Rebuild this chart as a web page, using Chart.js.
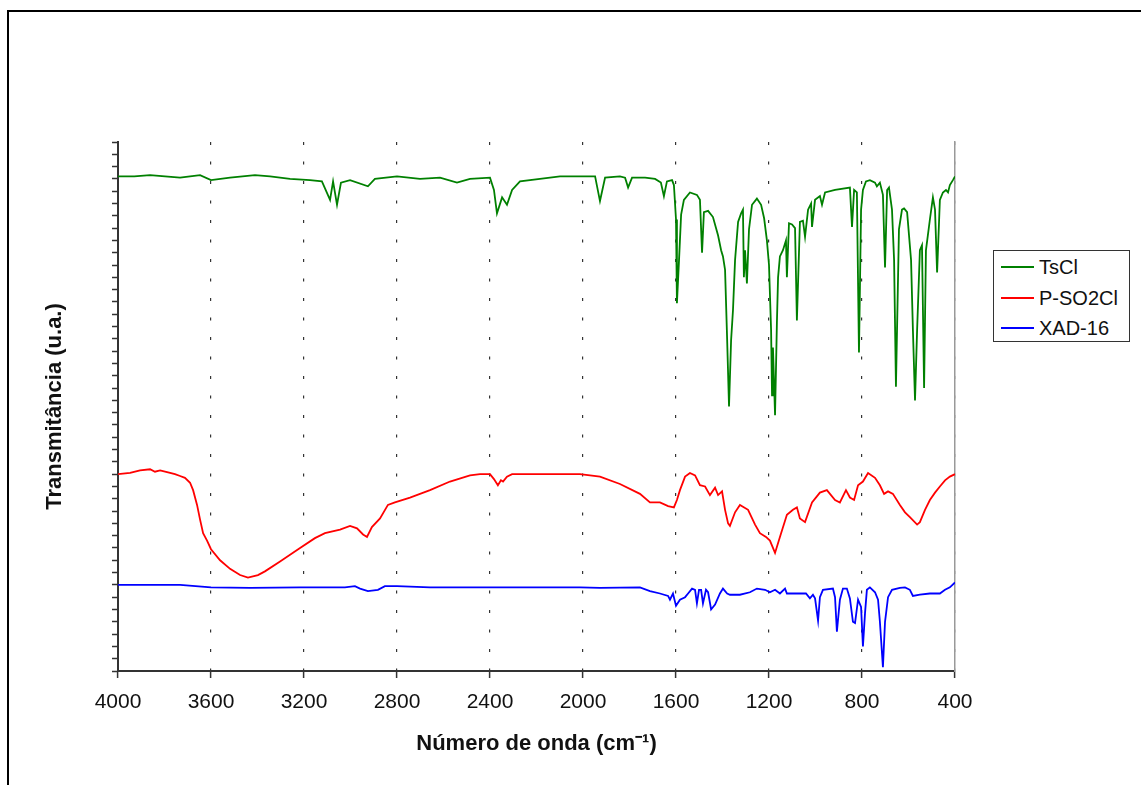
<!DOCTYPE html>
<html>
<head>
<meta charset="utf-8">
<script src="https://cdn.jsdelivr.net/npm/chart.js@4.4.1/dist/chart.umd.min.js"></script>
<style>
  html, body { margin: 0; padding: 0; background: #fff; width: 1141px; height: 785px; overflow: hidden; }
  #frame { position: absolute; left: 7px; top: 10px; width: 1160px; height: 800px; border: 2px solid #000; box-sizing: border-box; }
  #c { position: absolute; left: 0; top: 0; }
  #legend { position: absolute; left: 993px; top: 250px; width: 137px; height: 92px; border: 1px solid #333; box-sizing: border-box; background: #fff;
            font-family: "Liberation Sans", Arial, sans-serif; font-size: 20px; color: #111; }
  .row { position: absolute; left: 0; height: 24px; width: 100%; }
  .sw { position: absolute; left: 7px; top: 11px; width: 33px; height: 2px; }
  .lb { position: absolute; left: 45px; top: 0; line-height: 24px; white-space: nowrap; }
</style>
</head>
<body>
<div id="frame"></div>
<canvas id="c" width="1141" height="785"></canvas>
<div id="legend"></div>
<script>
// ---- Data (wavenumber in cm-1, transmittance in arbitrary units) ----
const seriesNames = ["TsCl", "P-SO2Cl", "XAD-16"];
const seriesColors = ["#008000", "#ff0000", "#0000ff"];
const xTicks = [4000, 3600, 3200, 2800, 2400, 2000, 1600, 1200, 800, 400];

const tsclWn = [4000,3930,3862,3798,3733,3690,3647,3600,3518,3411,3346,3260,3174,3123,3088,3075,3058,3041,3002,2925,2895,2800,2701,2615,2542,2486,2400,2383,2370,2348,2327,2305,2271,2185,2099,2000,1948,1927,1905,1841,1819,1806,1789,1733,1690,1665,1652,1639,1617,1609,1600,1596,1587,1578,1566,1540,1510,1497,1488,1480,1462,1441,1419,1406,1398,1389,1380,1372,1363,1355,1346,1333,1320,1312,1308,1303,1295,1286,1273,1252,1234,1221,1209,1200,1191,1187,1183,1174,1166,1161,1153,1140,1127,1123,1114,1101,1088,1080,1067,1054,1045,1032,1019,1015,1002,981,972,959,916,852,843,834,822,813,804,796,783,766,744,736,723,710,701,692,684,671,662,654,641,628,619,606,589,581,572,563,551,542,533,525,508,495,486,477,465,452,439,430,422,409,400];
const tsclT  = [40.2,40.2,40.3,40.2,40.1,40.2,40.3,39.9,40.1,40.3,40.2,40.0,39.9,39.8,38.3,39.8,37.9,39.7,39.9,39.4,40.0,40.2,40.0,40.1,39.7,40.0,40.1,39.1,37.2,38.5,37.9,39.1,39.8,40.0,40.2,40.2,40.2,38.2,40.1,40.2,40.1,39.3,40.1,40.1,40.0,39.7,38.6,39.8,39.9,39.5,36.7,29.9,33.4,37.1,38.3,38.9,38.7,38.3,34.0,37.3,37.4,36.9,35.4,34.2,33.7,32.6,26.9,21.5,26.9,29.3,33.4,36.5,37.2,37.5,32.0,34.2,31.5,35.9,37.9,38.4,37.9,36.8,35.0,33.0,27.7,22.4,26.3,20.8,28.3,32.0,33.7,34.2,35.0,32.0,36.4,36.3,36.0,28.5,36.5,36.6,35.3,37.5,38.0,36.1,38.3,38.6,37.9,38.9,39.1,39.3,36.1,39.1,38.9,25.9,37.5,39.1,39.8,39.9,39.7,39.4,39.7,38.7,32.8,39.1,39.3,37.5,33.4,23.1,35.9,37.5,37.6,37.3,33.4,27.7,22.0,27.7,34.2,34.6,23.0,34.2,36.7,38.5,37.5,32.4,38.3,38.9,39.1,38.9,39.5,39.9,40.2];

const psoWn = [4000,3948,3905,3862,3841,3819,3776,3755,3733,3712,3690,3677,3660,3647,3634,3617,3600,3561,3518,3475,3441,3398,3368,3303,3217,3153,3110,3045,3002,2972,2946,2929,2908,2873,2839,2809,2744,2658,2572,2486,2443,2400,2383,2366,2353,2344,2327,2305,2013,1970,1927,1841,1755,1712,1669,1634,1609,1596,1583,1561,1540,1518,1497,1475,1454,1432,1419,1402,1389,1376,1368,1346,1325,1290,1260,1239,1213,1196,1174,1153,1123,1097,1080,1067,1045,1015,981,951,916,895,869,852,834,817,796,774,744,723,705,688,667,637,615,594,563,551,529,508,486,465,443,422,400];
const psoT  = [16.0,16.1,16.3,16.4,16.2,16.3,16.1,16.0,15.85,15.7,15.3,14.7,13.5,12.3,11.2,10.6,9.9,9.0,8.3,7.8,7.6,7.8,8.1,8.9,10.0,10.8,11.2,11.5,11.8,11.6,11.1,10.9,11.7,12.4,13.5,13.7,14.1,14.7,15.4,15.9,16.0,16.0,15.6,15.1,15.5,15.4,15.8,16.0,16.0,15.9,15.8,15.2,14.4,13.7,13.7,13.4,13.3,13.9,14.7,15.8,16.1,15.9,15.1,15.0,14.3,14.9,14.3,14.6,13.1,12.0,11.8,12.9,13.5,13.1,11.9,11.2,10.9,10.6,9.6,10.9,12.7,13.1,13.3,12.4,12.1,13.7,14.5,14.7,13.9,13.7,14.7,14.1,13.9,15.1,15.4,16.1,15.7,15.1,14.4,14.6,14.4,13.5,12.9,12.5,11.9,12.1,13.1,13.9,14.5,15.0,15.5,15.8,16.0];

const xadWn = [4000,3733,3600,3432,3217,3024,2981,2959,2925,2882,2852,2800,2658,2400,2013,1927,1755,1712,1669,1634,1626,1613,1600,1583,1561,1548,1531,1518,1510,1501,1492,1484,1471,1462,1449,1432,1411,1398,1380,1368,1325,1282,1252,1217,1196,1174,1153,1131,1123,1067,1041,1024,1011,1002,989,981,968,925,916,908,895,882,865,852,839,830,817,804,796,787,779,766,744,731,723,710,701,688,671,637,615,594,581,551,508,465,443,422,400];
const xadT  = [7.0,7.0,6.8,6.75,6.8,6.8,6.9,6.7,6.5,6.6,6.9,6.9,6.8,6.8,6.8,6.75,6.8,6.5,6.3,6.1,5.8,6.3,5.3,5.8,6.0,6.3,6.7,6.6,5.5,6.6,6.6,5.5,6.6,6.4,5.0,5.4,6.3,6.7,6.3,6.2,6.2,6.4,6.7,6.6,6.4,6.6,6.3,6.7,6.3,6.3,6.3,5.9,6.2,5.9,4.1,6.0,6.6,6.7,6.0,3.2,5.8,6.7,6.7,5.9,4.0,3.9,5.8,5.2,2.0,4.7,6.6,6.8,6.4,5.8,4.0,0.3,4.0,6.0,6.6,6.75,6.8,6.6,6.1,6.2,6.3,6.3,6.6,6.8,7.2];

const yMin = 0, yMax = 43, yStep = 1;

// ---- Build datasets ----
function pts(xs, ys) { return xs.map((x, i) => ({ x: x, y: ys[i] })); }
const allWn = [tsclWn, psoWn, xadWn];
const allT = [tsclT, psoT, xadT];
const datasets = seriesNames.map((n, i) => ({
  label: n,
  data: pts(allWn[i], allT[i]),
  borderColor: seriesColors[i],
  backgroundColor: seriesColors[i],
  borderWidth: 1.8,
  pointRadius: 0,
  tension: 0,
  fill: false,
  yAxisID: 'y'
}));

// ---- Legend (HTML) ----
const lg = document.getElementById('legend');
seriesNames.forEach((n, i) => {
  const r = document.createElement('div');
  r.className = 'row';
  r.style.top = (4 + i * 30.5) + 'px';
  r.innerHTML = '<div class="sw" style="background:' + seriesColors[i] + '"></div><div class="lb">' + n + '</div>';
  lg.appendChild(r);
});

const FONT = '"Liberation Sans", Arial, sans-serif';
new Chart(document.getElementById('c'), {
  type: 'line',
  data: { datasets: datasets },
  options: {
    responsive: false,
    animation: false,
    devicePixelRatio: 1,
    layout: { padding: { left: 0, top: 142, right: 186, bottom: 0 } },
    plugins: { legend: { display: false }, tooltip: { enabled: false } },
    scales: {
      x: {
        type: 'linear',
        min: 400, max: 4000, reverse: true,
        afterBuildTicks: (s) => { s.ticks = xTicks.map(v => ({ value: v })); },
        afterFit: (s) => { s.height = 785 - 671; },
        ticks: {
          callback: (v) => String(v),
          font: { family: FONT, size: 21 },
          color: '#111',
          padding: 12,
          maxRotation: 0,
          autoSkip: false
        },
        grid: {
          display: true,
          drawOnChartArea: true,
          color: (ctx) => (ctx.tick && ctx.tick.value === 4000) ? 'rgba(0,0,0,0)' : '#333',
          lineWidth: 1.2,
          tickLength: 7,
          tickColor: '#333',
          tickWidth: 1.5
        },
        border: { display: true, color: '#333', width: 2, dash: [3, 16.5] },
        title: {
          display: true,
          text: 'Número de onda (cm⁻¹)',
          font: { family: FONT, size: 22, weight: 'bold' },
          color: '#111',
          padding: { top: 0, bottom: 28 }
        }
      },
      y: {
        type: 'linear',
        position: 'left',
        min: yMin, max: yMax,
        afterFit: (s) => { s.width = 118; },
        ticks: { display: false, stepSize: yStep, maxTicksLimit: 100 },
        grid: { display: true, drawOnChartArea: false, tickLength: 6, tickColor: '#333', tickWidth: 1.5 },
        border: { display: true, color: '#333', width: 2 },
        title: {
          display: true,
          text: 'Transmitância (u.a.)',
          font: { family: FONT, size: 22, weight: 'bold' },
          color: '#111',
          padding: { top: 42, bottom: 0 }
        }
      },
      y2: {
        type: 'linear',
        position: 'right',
        min: yMin, max: yMax,
        afterFit: (s) => { s.width = 0; },
        ticks: { display: false },
        grid: { display: false },
        border: { display: true, color: '#999', width: 1.5 }
      }
    }
  }
});
</script>
</body>
</html>
